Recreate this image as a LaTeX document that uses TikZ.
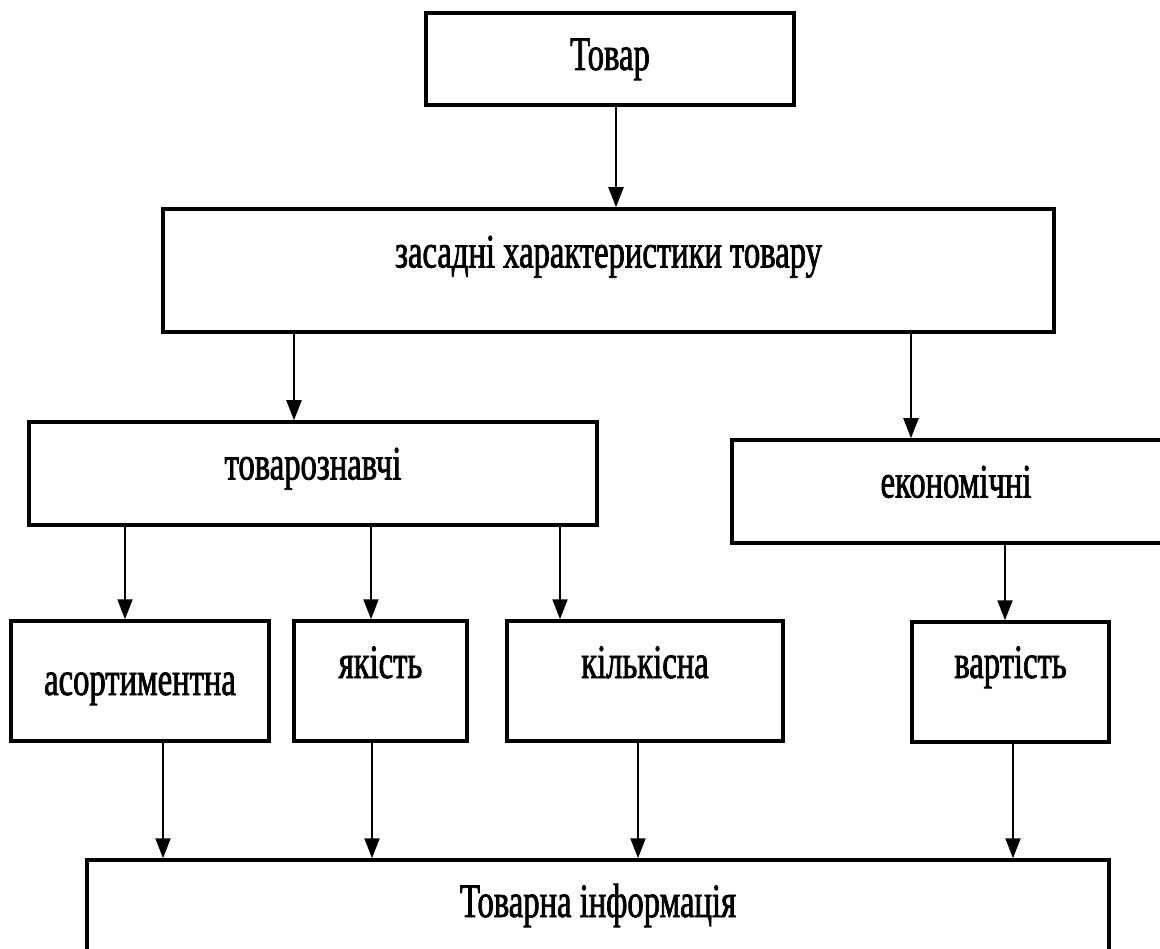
\documentclass[tikz,border=0pt]{standalone}
\usepackage{fontspec}
\setmainfont[FakeStretch=0.68,FakeBold=1.5]{Liberation Serif}
\usetikzlibrary{arrows.meta}
\begin{document}
\begin{tikzpicture}[x=1pt,y=-1pt,
  box/.style={draw, line width=3.5pt, rectangle, inner sep=0pt,
    text height=22pt, text depth=0pt, font=\fontsize{48}{56}\selectfont},
  arr/.style={line width=2pt, -{Triangle[length=20pt,width=15pt]}}]
\useasboundingbox (0,0) rectangle (1160,949);
\clip (0,0) rectangle (1160,949);

% boxes
\node[box, minimum width=368pt, minimum height=92pt]  (tovar) at (610,59)     {Товар};
\node[box, minimum width=891pt, minimum height=123pt] (zasad) at (608.5,270.5) {\raisebox{14pt}{засадні характеристики товару}};
\node[box, minimum width=568pt, minimum height=103pt] (tovzn) at (313,473.5)   {\raisebox{5pt}{товарознавчі}};
\node[box, minimum width=448pt, minimum height=103pt] (econ)  at (956,491.5)   {\raisebox{5pt}{економічні}};
\node[box, minimum width=258pt, minimum height=120pt] (asort) at (140,681)     {\raisebox{-3pt}{асортиментна}};
\node[box, minimum width=173pt, minimum height=120pt] (yak)   at (380.5,681)   {\raisebox{14pt}{якість}};
\node[box, minimum width=276pt, minimum height=120pt] (kilk)  at (645,681)     {\raisebox{14pt}{кількісна}};
\node[box, minimum width=197pt, minimum height=120pt] (vart)  at (1010.5,682)  {\raisebox{15pt}{вартість}};
\node[box, minimum width=1022pt, minimum height=140pt] (info) at (598,930)     {\raisebox{24pt}{Товарна інформація}};

% connector columns
\coordinate (c1) at (616,0);
\coordinate (c2) at (294,0);
\coordinate (c3) at (911,0);
\coordinate (c4) at (125,0);
\coordinate (c5) at (371,0);
\coordinate (c6) at (560,0);
\coordinate (c7) at (1005,0);
\coordinate (c8) at (163,0);
\coordinate (c9) at (372,0);
\coordinate (c10) at (638,0);
\coordinate (c11) at (1013,0);

% connectors
\draw[arr] (tovar.south -| c1) -- (zasad.north -| c1);
\draw[arr] (zasad.south -| c2) -- (tovzn.north -| c2);
\draw[arr] (zasad.south -| c3) -- (econ.north -| c3);
\draw[arr] (tovzn.south -| c4) -- (asort.north -| c4);
\draw[arr] (tovzn.south -| c5) -- (yak.north -| c5);
\draw[arr] (tovzn.south -| c6) -- (kilk.north -| c6);
\draw[arr] (econ.south -| c7) -- (vart.north -| c7);
\draw[arr] (asort.south -| c8) -- (info.north -| c8);
\draw[arr] (yak.south -| c9) -- (info.north -| c9);
\draw[arr] (kilk.south -| c10) -- (info.north -| c10);
\draw[arr] (vart.south -| c11) -- (info.north -| c11);
\end{tikzpicture}
\end{document}
